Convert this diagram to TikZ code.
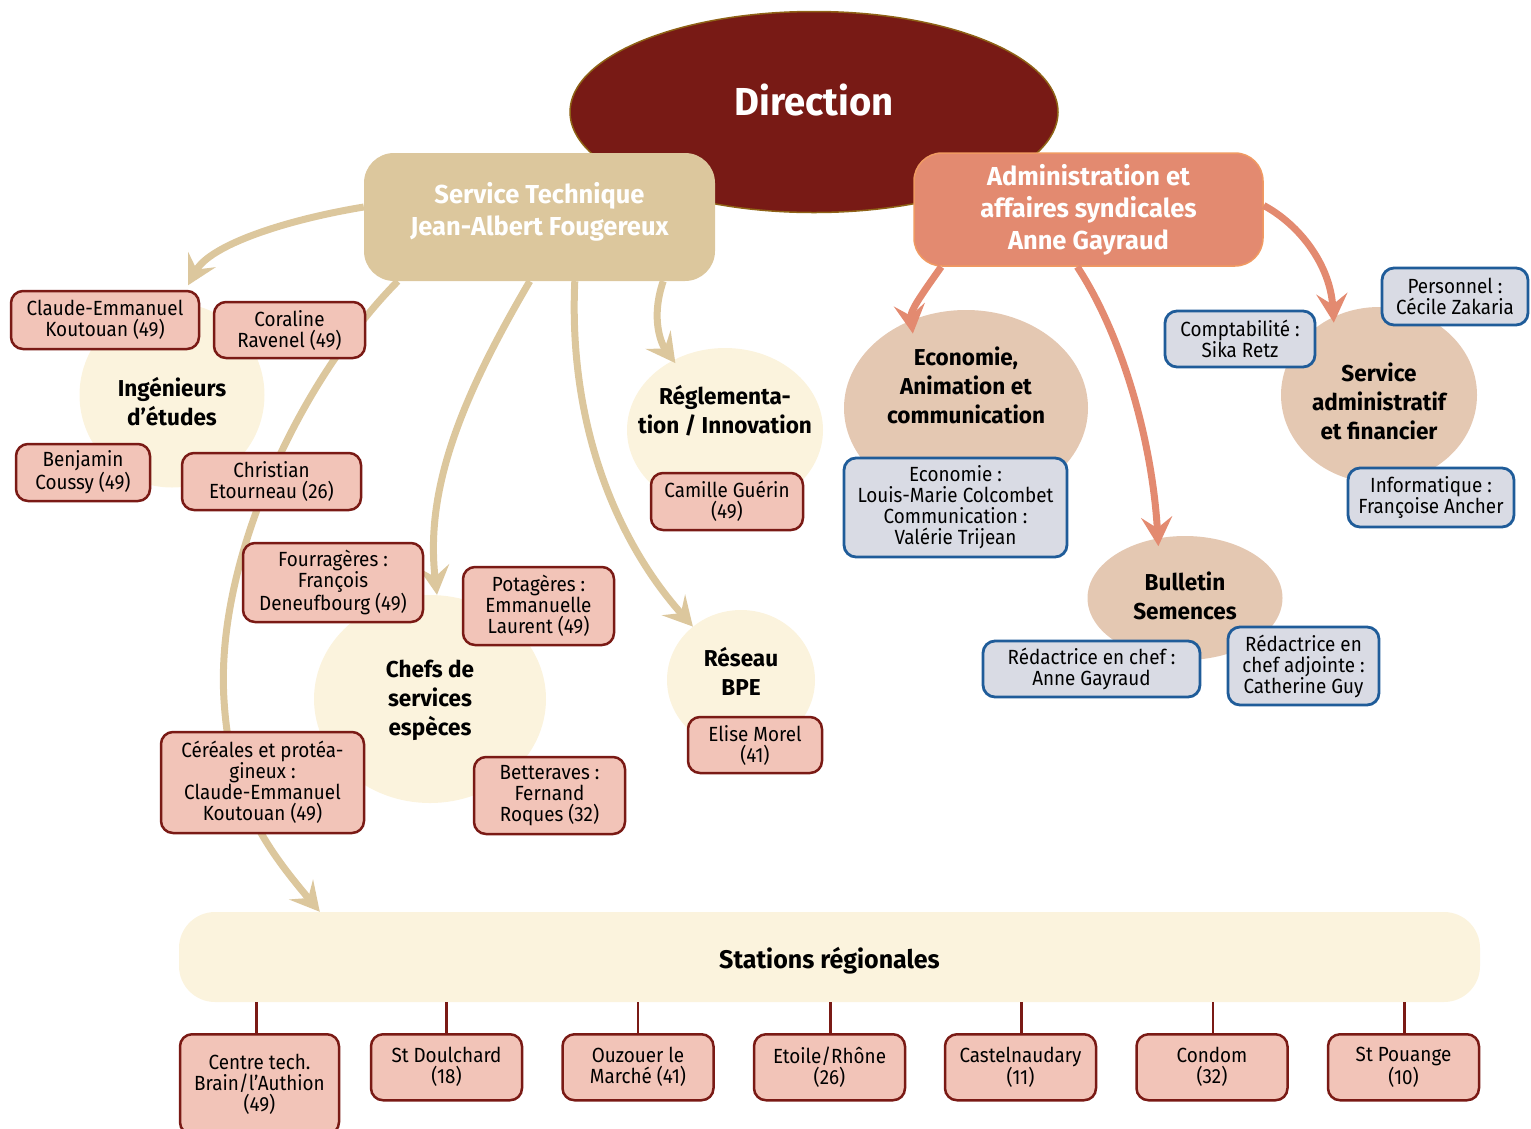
\documentclass[tikz,border=0pt]{standalone}
\usepackage{fontspec}
\setmainfont{Fira Sans}[FakeStretch=0.92]
\newfontfamily\widefam{Fira Sans}[FakeStretch=0.98]
\usetikzlibrary{arrows.meta,shapes.geometric}
\definecolor{dirred}{HTML}{781A15}
\definecolor{dirborder}{HTML}{8E6216}
\definecolor{tan}{HTML}{DCC79D}
\definecolor{salmon}{HTML}{E38A70}
\definecolor{salmonborder}{HTML}{F09A62}
\definecolor{cream}{HTML}{FBF3DD}
\definecolor{beige}{HTML}{E4C8B2}
\definecolor{pinkfill}{HTML}{F2C4B8}
\definecolor{pinkborder}{HTML}{7A1A15}
\definecolor{bluefill}{HTML}{D9DBE4}
\definecolor{blueborder}{HTML}{1F5C99}
\newcommand{\bxfont}{\fontsize{20.5}{21}\selectfont}
\newcommand{\ttlfont}{\widefam\bfseries\fontsize{23}{29}\selectfont}
\newcommand{\hdfont}{\widefam\bfseries\fontsize{26}{32}\selectfont}
\tikzset{
  pinkbox/.style={draw=pinkborder, fill=pinkfill, line width=2.5pt, rounded corners=12pt, align=center, inner sep=0pt, font=\bxfont},
  bluebox/.style={draw=blueborder, fill=bluefill, line width=2.8pt, rounded corners=12pt, align=center, inner sep=0pt, font=\bxfont},
  creamcirc/.style={ellipse, fill=cream, inner sep=0pt},
  beigecirc/.style={ellipse, fill=beige, inner sep=0pt},
  ttl/.style={font=\ttlfont, align=center, text=black},
  tanarrow/.style={draw=tan, line width=7pt, -{Stealth[length=29pt,width=31pt,inset=11pt]}},
  salarrow/.style={draw=salmon, line width=7pt, -{Stealth[length=29pt,width=31pt,inset=11pt]}},
  stalink/.style={draw=pinkborder, line width=2.5pt},
}
\begin{document}
\begin{tikzpicture}[x=1pt,y=-1pt]
\useasboundingbox (0,0) rectangle (1531,1128);

% Direction
\node[ellipse, fill=dirred, draw=dirborder, line width=1.5pt, minimum width=488pt, minimum height=201pt,
  label={[font=\widefam\bfseries\fontsize{39}{40}\selectfont, text=white, yshift=12pt]center:Direction}] (dir) at (814,112) {};

% circles
\node[creamcirc, minimum width=185pt, minimum height=185pt,
  label={[ttl, yshift=-7pt]center:Ingénieurs\\d’études}] (ing) at (172,395) {};
\node[creamcirc, minimum width=196pt, minimum height=164pt,
  label={[ttl, yshift=19pt]center:Réglementa-\\tion / Innovation}] (reg) at (725,430) {};
\node[creamcirc, minimum width=232pt, minimum height=208pt,
  label={[ttl, yshift=-1pt]center:Chefs de\\services\\espèces}] (chefs) at (430,699) {};
\node[creamcirc, minimum width=148pt, minimum height=140pt,
  label={[ttl, yshift=9pt]center:Réseau\\BPE}] (bpe) at (741,680) {};
\node[beigecirc, minimum width=244pt, minimum height=196pt,
  label={[ttl, yshift=23pt]center:Economie,\\Animation et\\communication}] (eco) at (966,408) {};
\node[beigecirc, minimum width=196pt, minimum height=176pt,
  label={[ttl, yshift=-6pt]center:Service\\administratif\\et financier}] (sadm) at (1379,395) {};
\node[beigecirc, minimum width=195pt, minimum height=124pt,
  label={[ttl, yshift=2pt]center:Bulletin\\Semences}] (bul) at (1185,598) {};

% Stations
\node[fill=cream, rounded corners=36pt, minimum width=1301pt, minimum height=90pt, inner sep=0pt,
  label={[font=\widefam\bfseries\fontsize{25.5}{28}\selectfont, yshift=-4pt]center:Stations régionales}] (sta) at (829.5,957) {};

% main boxes
\node[fill=tan, rounded corners=30pt, minimum width=351pt, minimum height=128pt, inner sep=0pt,
  align=center, text=white, font=\hdfont, text depth=16pt] (st) at (539.5,217) {Service Technique\\Jean-Albert Fougereux};
\node[fill=salmon, draw=salmonborder, line width=1.5pt, rounded corners=28pt, minimum width=349pt, minimum height=113pt, inner sep=0pt,
  align=center, text=white, font=\hdfont] (adm) at (1088.5,209.5) {Administration et\\affaires syndicales\\Anne Gayraud};

% tan arrows
\draw[tanarrow] ([yshift=10pt]st.west) .. controls (285,220) and (210,245) .. ([xshift=16pt,yshift=17pt]ing.north);
\draw[tanarrow] ([xshift=34pt]st.south west) .. controls (300,380) and (215,560) .. (224,700)
   .. controls (230,800) and (268,850) .. ([xshift=141pt]sta.north west);
\draw[tanarrow] ([xshift=166pt]st.south west) .. controls (460,400) and (425,490) .. ([xshift=7pt]chefs.north);
\draw[tanarrow] ([xshift=211pt]st.south west) .. controls (568,430) and (620,545) .. (bpe.132);
\draw[tanarrow] ([xshift=-52pt]st.south east) .. controls (650,320) and (662,345) .. ([yshift=-4pt]reg.125);

% salmon arrows
\draw[salarrow] ([xshift=28pt]adm.south west) .. controls (925,290) and (910,310) .. ([yshift=-14pt]eco.121);
\draw[salarrow] ([xshift=164pt]adm.south west) .. controls (1122,335) and (1152,440) .. ([yshift=-8pt]bul.114);
\draw[salarrow] ([yshift=4pt]adm.east) .. controls (1300,225) and (1330,265) .. ([yshift=-6pt]sadm.120);

% pink boxes
\node[pinkbox, minimum width=188pt, minimum height=58pt] (cek) at (105,320) {Claude-Emmanuel\\Koutouan (49)};
\node[pinkbox, minimum width=151pt, minimum height=56pt] (cor) at (289.5,330) {Coraline\\Ravenel (49)};
\node[pinkbox, minimum width=134pt, minimum height=57pt] (ben) at (83,472.5) {Benjamin\\Coussy (49)};
\node[pinkbox, minimum width=179pt, minimum height=57pt] (chr) at (271.5,481.5) {Christian\\Etourneau (26)};
\node[pinkbox, minimum width=152pt, minimum height=57pt] (cam) at (727,501.5) {Camille Guérin\\(49)};
\node[pinkbox, minimum width=180pt, minimum height=79pt] (fou) at (333,582.5) {Fourragères :\\François\\Deneufbourg (49)};
\node[pinkbox, minimum width=151pt, minimum height=78pt] (pot) at (538.5,606) {Potagères :\\Emmanuelle\\Laurent (49)};
\node[pinkbox, minimum width=151pt, minimum height=77pt] (bet) at (549.5,795.5) {Betteraves :\\Fernand\\Roques (32)};
\node[pinkbox, minimum width=203pt, minimum height=101pt] (cer) at (262.5,782.5) {Céréales et protéa-\\gineux :\\Claude-Emmanuel\\Koutouan (49)};
\node[pinkbox, minimum width=134pt, minimum height=56pt] (eli) at (755,745) {Elise Morel\\(41)};

% blue boxes
\node[bluebox, minimum width=223pt, minimum height=99pt] (ecob) at (955.5,507.5) {Economie :\\Louis-Marie Colcombet\\Communication :\\Valérie Trijean};
\node[bluebox, minimum width=150pt, minimum height=56pt] (cpt) at (1240,339) {Comptabilité :\\Sika Retz};
\node[bluebox, minimum width=146pt, minimum height=57pt] (per) at (1455,296.5) {Personnel :\\Cécile Zakaria};
\node[bluebox, minimum width=166pt, minimum height=59pt] (inf) at (1431,497.5) {Informatique :\\Françoise Ancher};
\node[bluebox, minimum width=217pt, minimum height=56pt] (rc) at (1091.5,669) {Rédactrice en chef :\\Anne Gayraud};
\node[bluebox, minimum width=151pt, minimum height=78pt] (rca) at (1303.5,666) {Rédactrice en\\chef adjointe :\\Catherine Guy};

% station boxes
\node[pinkbox, minimum width=159pt, minimum height=100pt, anchor=north] (s1) at (259.5,1033) {Centre tech.\\Brain/l’Authion\\(49)};
\node[pinkbox, minimum width=151pt, minimum height=66pt, anchor=north] (s2) at (446.5,1033) {St Doulchard\\(18)};
\node[pinkbox, minimum width=151pt, minimum height=66pt, anchor=north] (s3) at (638,1033) {Ouzouer le\\Marché (41)};
\node[pinkbox, minimum width=151pt, minimum height=66pt, anchor=north] (s4) at (829.5,1033) {Etoile/Rhône\\(26)};
\node[pinkbox, minimum width=151pt, minimum height=66pt, anchor=north] (s5) at (1020.5,1033) {Castelnaudary\\(11)};
\node[pinkbox, minimum width=151pt, minimum height=66pt, anchor=north] (s6) at (1212,1033) {Condom\\(32)};
\node[pinkbox, minimum width=151pt, minimum height=66pt, anchor=north] (s7) at (1403.5,1033) {St Pouange\\(10)};

\foreach \s/\dx in {s1/-3,s2/0,s3/0,s4/1,s5/1,s6/1,s7/1}{
  \draw[stalink] ([xshift=\dx pt]\s.north) -- ([xshift=\dx pt]\s.north |- sta.south);
}
\end{tikzpicture}
\end{document}
